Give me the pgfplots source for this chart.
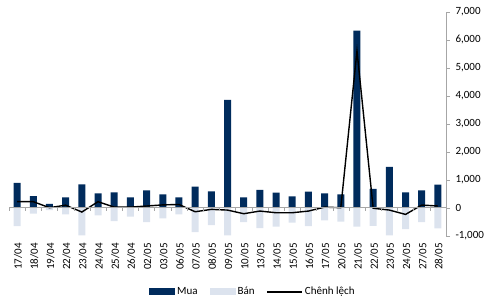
\documentclass[border=0pt]{standalone}
\usepackage{pgfplots}
\pgfplotsset{compat=1.18}
\usepackage{fontspec}
\setmainfont{Carlito}
\definecolor{mua}{HTML}{002B5C}
\definecolor{ban}{HTML}{DCE3EE}
\definecolor{axgray}{HTML}{A6A6A6}
\begin{document}
\begin{tikzpicture}
\useasboundingbox (-9pt,-68.3pt) rectangle (483pt,235.7pt);
\begin{axis}[
  at={(0,0)}, anchor=south west,
  scale only axis, width=437pt, height=224pt,
  xmin=-0.5, xmax=26.5, ymin=-1000, ymax=7000,
  axis y line*=right, axis x line*=bottom,
  x axis line style={draw=none},
  y axis line style={draw=axgray},
  xtick={0,...,26},
  xticklabels={17/04,18/04,19/04,22/04,23/04,24/04,25/04,26/04,02/05,03/05,06/05,07/05,08/05,09/05,10/05,13/05,14/05,15/05,16/05,17/05,20/05,21/05,22/05,23/05,24/05,27/05,28/05},
  major x tick style={draw=none},
  xticklabel style={rotate=90, anchor=east, font=\fontsize{11}{13}\selectfont, yshift=-1pt},
  ytick={-1000,0,1000,2000,3000,4000,5000,6000,7000},
  ytick style={draw=axgray},
  tick align=outside, major tick length=4pt,
  yticklabel style={font=\fontsize{11}{13}\selectfont, xshift=2pt},
  /pgf/number format/.cd, 1000 sep={,}, assume math mode=true,
  /pgfplots/.cd,
  legend style={at={(0.558,-0.251)}, anchor=center, draw=none, legend columns=3,
    font=\fontsize{11}{13}\selectfont,
    /tikz/every even column/.append style={column sep=10pt}},
  clip=false,
]
\addplot[ybar, bar width=7pt, bar shift=0pt, fill=mua, draw=none,
  legend image code/.code={\fill[mua] (0pt,-3.5pt) rectangle (26pt,3.5pt);}]
 coordinates {(0,890)(1,415)(2,140)(3,370)(4,830)(5,510)(6,545)(7,370)(8,620)(9,475)(10,370)(11,750)(12,580)(13,3850)(14,370)(15,640)(16,535)(17,400)(18,570)(19,510)(20,475)(21,6320)(22,670)(23,1460)(24,545)(25,620)(26,820)};
\addlegendentry{Mua}
\addplot[ybar, bar width=7pt, bar shift=0pt, fill=ban, draw=none,
  legend image code/.code={\fill[ban] (0pt,-3.5pt) rectangle (26pt,3.5pt);}]
 coordinates {(0,-655)(1,-215)(2,-85)(3,-240)(4,-990)(5,-275)(6,-480)(7,-320)(8,-515)(9,-380)(10,-240)(11,-870)(12,-620)(13,-990)(14,-515)(15,-730)(16,-680)(17,-535)(18,-655)(19,-450)(20,-500)(21,-680)(22,-645)(23,-990)(24,-765)(25,-515)(26,-740)};
\addlegendentry{Bán}
\addplot[black, line width=1.4pt, sharp plot, mark=none,
  legend image code/.code={\draw[black, line width=1.4pt] (0pt,0pt) -- (35pt,0pt);}]
 coordinates {(0,215)(1,215)(2,0)(3,90)(4,-155)(5,215)(6,20)(7,20)(8,60)(9,100)(10,115)(11,-145)(12,-60)(13,-85)(14,-215)(15,-120)(16,-180)(17,-180)(18,-120)(19,20)(20,0)(21,5600)(22,-20)(23,-85)(24,-240)(25,95)(26,60)};
\addlegendentry{Chênh lệch}
\draw[axgray] (axis cs:-0.5,0) -- (axis cs:26.5,0);
\pgfplotsinvokeforeach{-0.5,0.5,...,25.5}{\draw[axgray] (axis cs:#1,0) -- ++(0pt,-3pt);}
\end{axis}
\end{tikzpicture}
\end{document}
